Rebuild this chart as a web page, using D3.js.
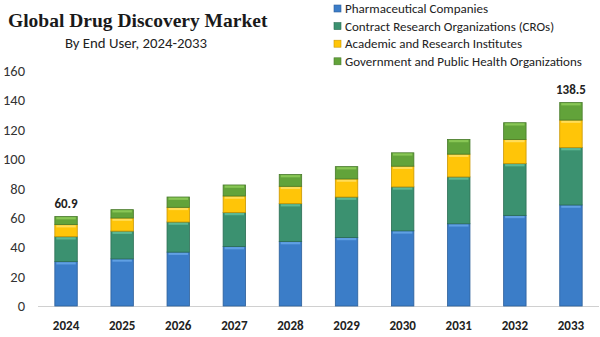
<!DOCTYPE html>
<html><head><meta charset="utf-8">
<script src="https://cdn.jsdelivr.net/npm/d3@7"></script>
<style>body{margin:0;background:#fff}svg{display:block}</style>
</head><body>
<svg id="c" width="600" height="337"></svg>
<script>
const years = ["2024","2025","2026","2027","2028","2029","2030","2031","2032","2033"];
const seriesNames = ["Pharmaceutical Companies","Contract Research Organizations (CROs)","Academic and Research Institutes","Government and Public Health Organizations"];
const pharma   = [30.2, 32.1, 36.7, 40.5, 43.9, 46.7, 51.2, 56.0, 61.7, 68.8];
const cros     = [17.0, 18.9, 20.5, 23.2, 25.8, 27.5, 29.9, 31.9, 35.3, 39.1];
const academic = [8.2, 8.9, 10.0, 11.2, 11.8, 12.3, 14.1, 15.5, 16.4, 18.7];
const govt     = [5.5, 5.7, 7.0, 7.5, 8.0, 8.4, 9.1, 10.0, 11.4, 11.9];
const totalLabels = {"2024":"60.9","2033":"138.5"};
const yTicks = [0,20,40,60,80,100,120,140,160];
const colors = ["#3b7dc8","#3b9170","#ffc508","#62a33a"];
const dark = ["#2c5f9a","#2b6d53","#c99600","#487a2a"];
const light = ["#67a6e8","#63c09b","#ffe066","#8fcc5a"];

const svg = d3.select("#c");
const x = d3.scaleBand().domain(years).range([38,599]).paddingInner(0.6).paddingOuter(0.3);
const y = d3.scaleLinear().domain([0,160]).range([306,71]);

const rows = years.map((yr,i)=>({year:yr, v:[pharma[i],cros[i],academic[i],govt[i]]}));
const stack = d3.stack().keys([0,1,2,3]).value((d,k)=>d.v[k]);
const layers = stack(rows);

// title
svg.append("text").attr("x",8).attr("y",27).attr("font-family","Liberation Serif, Times New Roman, serif")
  .attr("font-weight","bold").attr("font-size",19.5).attr("fill","#1a1a1a").text("Global Drug Discovery Market");
svg.append("text").attr("x",136).attr("y",48).attr("text-anchor","middle").attr("font-family","Carlito, Open Sans, sans-serif")
  .attr("font-size",14.8).attr("fill","#222").text("By End User, 2024-2033");

// legend
const lg = svg.append("g");
seriesNames.forEach((n,i)=>{
  const yy = 8.5 + i*17.6;
  lg.append("rect").attr("x",334).attr("y",yy-3.5).attr("width",7).attr("height",7).attr("fill",colors[i]).attr("stroke",dark[i]).attr("stroke-width",0.6);
  lg.append("text").attr("x",345).attr("y",yy+4.5).attr("font-family","Carlito, Open Sans, sans-serif").attr("font-size",13).attr("fill","#222").text(n);
});

// y axis labels
svg.append("g").selectAll("text").data(yTicks).join("text")
  .attr("x",25).attr("y",d=>y(d)+5).attr("text-anchor","end")
  .attr("font-family","Carlito, Open Sans, sans-serif").attr("font-size",14.5).attr("fill","#333").text(d=>d);

// baseline
svg.append("line").attr("x1",38).attr("x2",599).attr("y1",306.5).attr("y2",306.5).attr("stroke","#d0d0d0").attr("stroke-width",1);

// bars
layers.forEach((layer,k)=>{
  const g = svg.append("g");
  layer.forEach(d=>{
    const x0 = x(d.data.year), w = x.bandwidth();
    const top = y(d[1]), bot = y(d[0]);
    g.append("rect").attr("x",x0).attr("y",top).attr("width",w).attr("height",bot-top)
      .attr("fill",colors[k]).attr("stroke",dark[k]).attr("stroke-width",0.8);
    g.append("rect").attr("x",x0+1.5).attr("y",top+0.6).attr("width",w-3).attr("height",2.2).attr("fill",light[k]).attr("opacity",0.85);
  });
});

// total labels
svg.append("g").selectAll("text").data(rows.filter(r=>totalLabels[r.year])).join("text")
  .attr("x",d=>x(d.year)+x.bandwidth()/2).attr("y",d=>y(d3.sum(d.v))-9)
  .attr("text-anchor","middle").attr("font-family","Carlito, Open Sans, sans-serif").attr("font-weight","bold")
  .attr("font-size",13).attr("fill","#222").text(d=>totalLabels[d.year]);

// x axis labels
svg.append("g").selectAll("text").data(years).join("text")
  .attr("x",d=>x(d)+x.bandwidth()/2).attr("y",330).attr("text-anchor","middle")
  .attr("font-family","Carlito, Open Sans, sans-serif").attr("font-weight","bold").attr("font-size",13).attr("fill","#222").text(d=>d);
</script>
</body></html>
